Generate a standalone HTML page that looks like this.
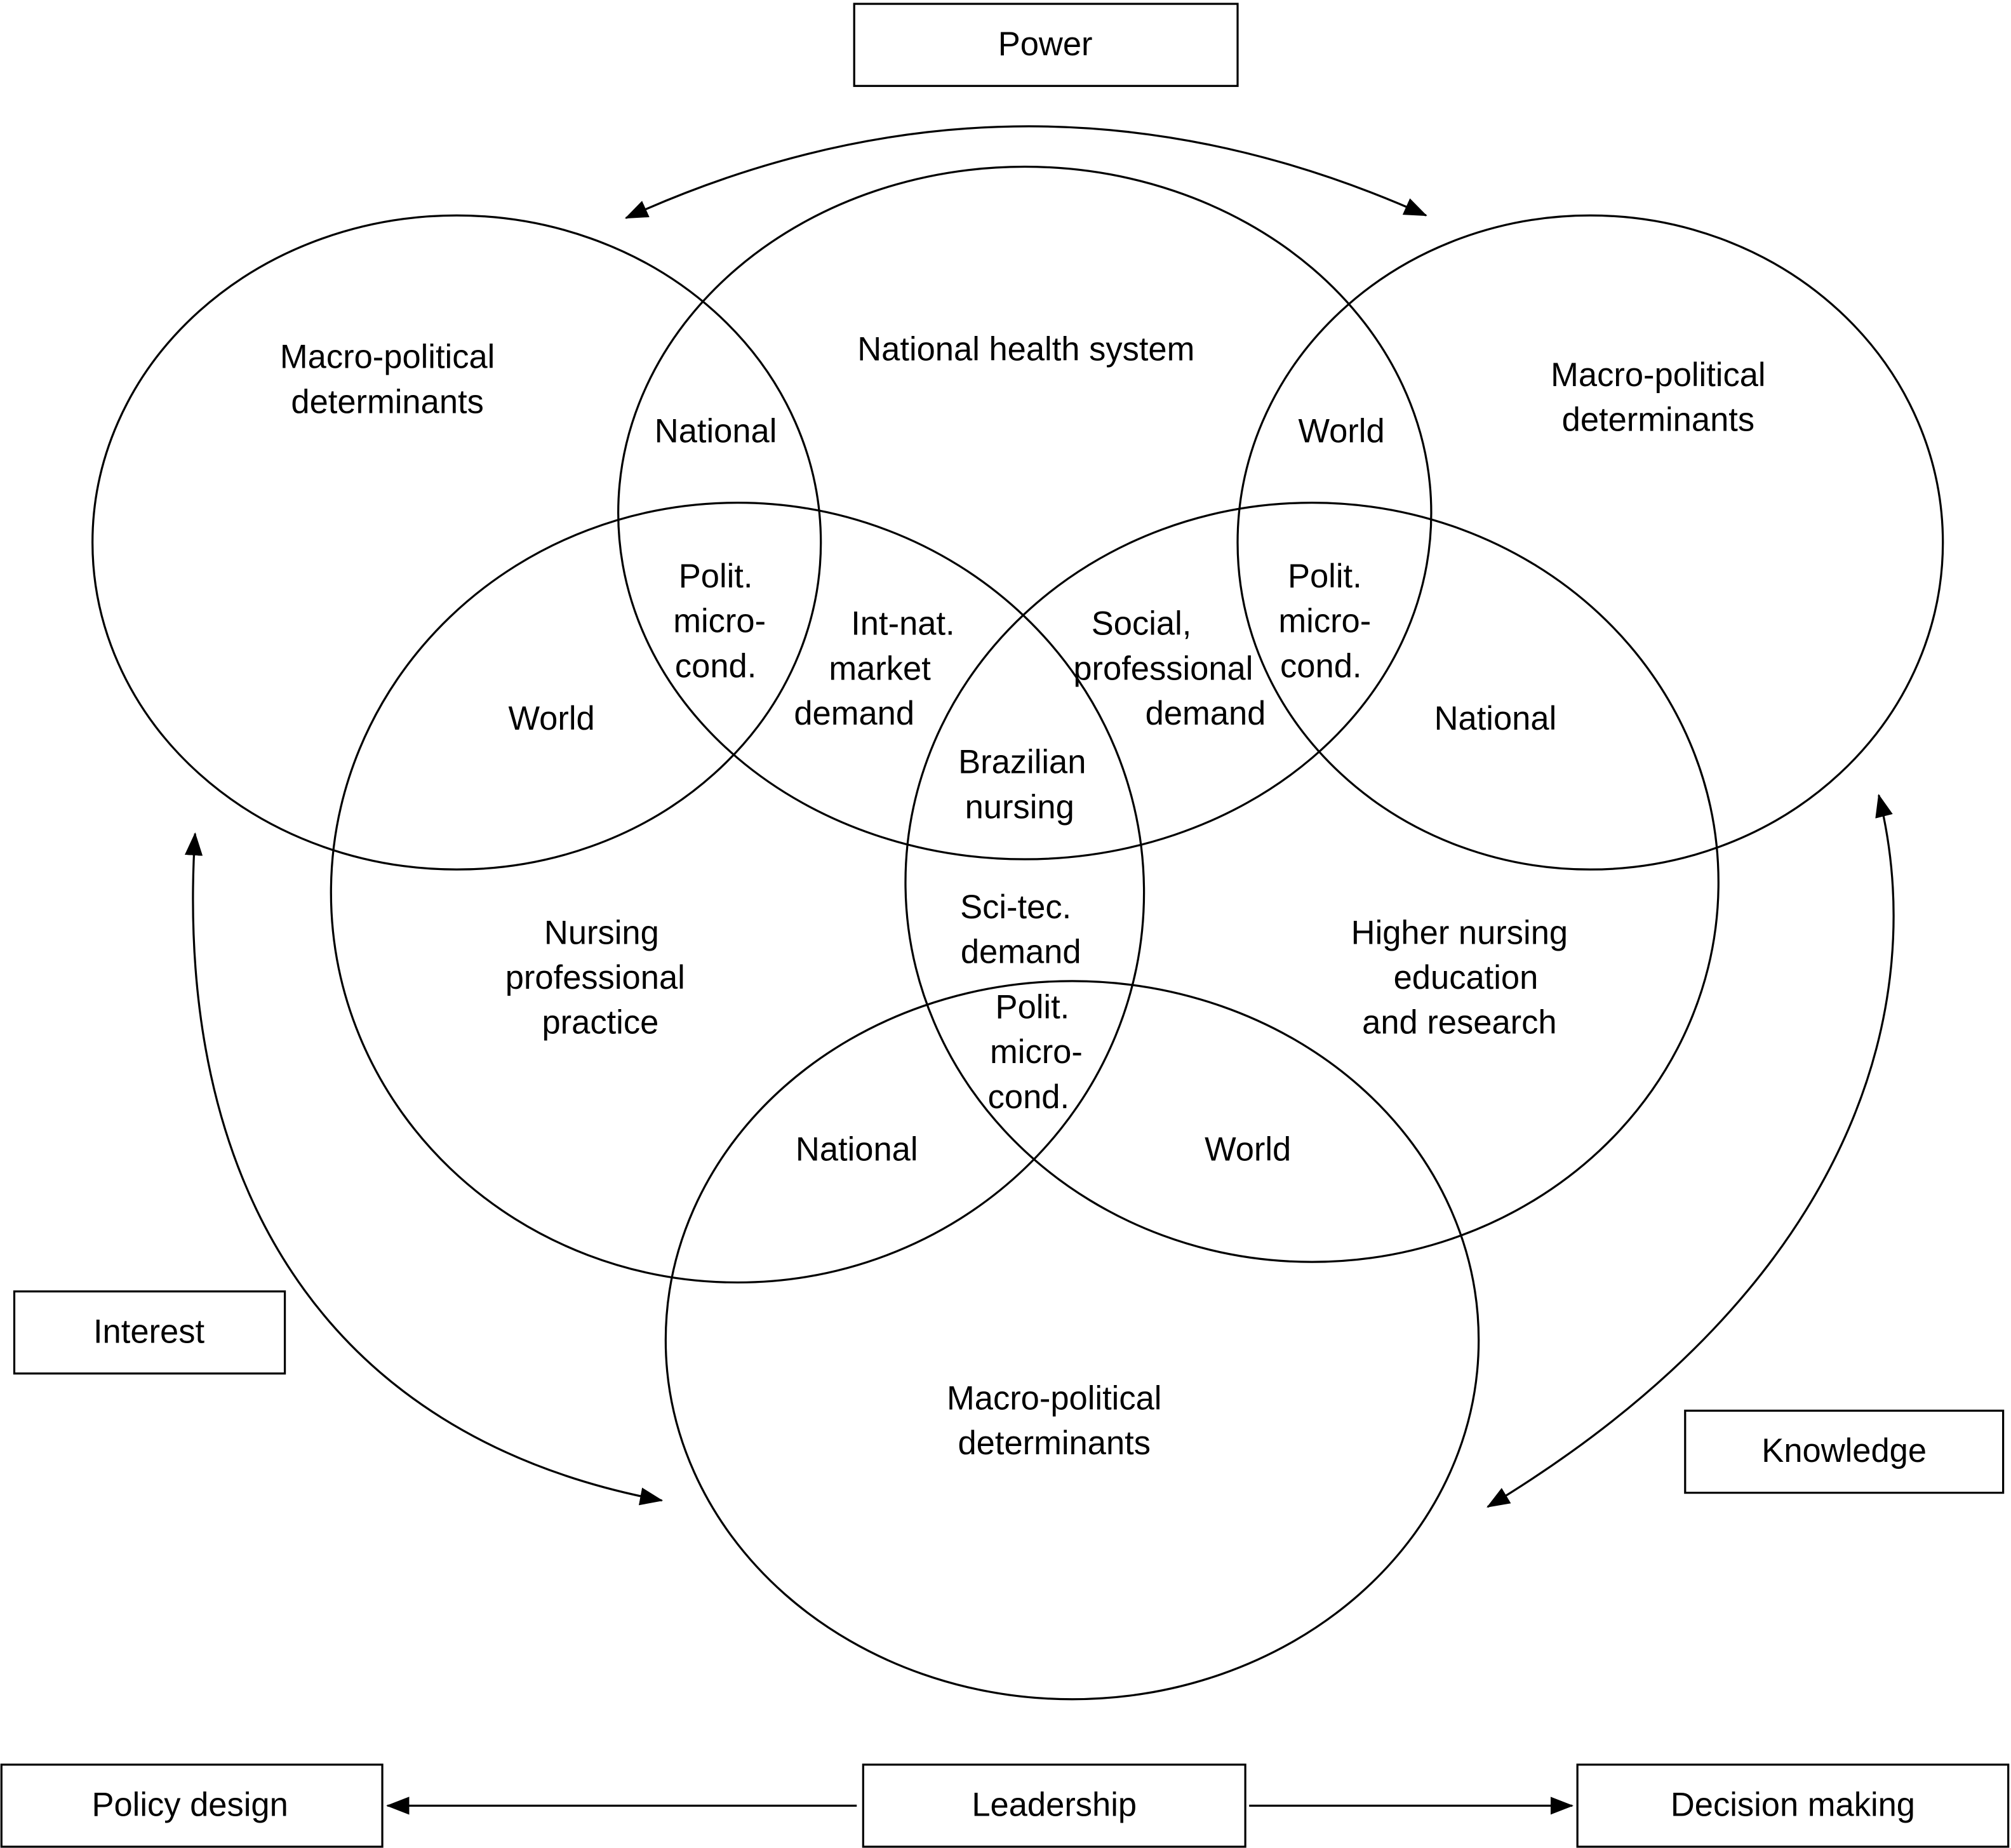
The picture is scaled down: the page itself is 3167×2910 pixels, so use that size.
<!DOCTYPE html>
<html><head><meta charset="utf-8"><style>
html,body{margin:0;padding:0;background:#fff;}
svg{display:block;}
text{font-family:"Liberation Sans",Arial,sans-serif;font-size:26px;fill:#000;text-anchor:middle;}
</style></head><body>
<svg width="3167" height="2910" viewBox="0 0 1568 1441" xmlns="http://www.w3.org/2000/svg">
<defs>
<marker id="b" markerWidth="18" markerHeight="14" refX="17" refY="7" orient="auto-start-reverse" markerUnits="userSpaceOnUse"><path d="M0,0 L18,7 L0,14 z" fill="#000"/></marker></defs>
<g fill="none" stroke="#000" stroke-width="1.6">
<ellipse cx="356" cy="423" rx="284" ry="255"/>
<ellipse cx="799" cy="400" rx="317" ry="270"/>
<ellipse cx="1240" cy="423" rx="275" ry="255"/>
<ellipse cx="575" cy="696" rx="317" ry="304"/>
<ellipse cx="1023" cy="688" rx="317" ry="296"/>
<ellipse cx="836" cy="1045" rx="317" ry="280"/>
<rect x="666" y="3" width="299" height="64"/>
<rect x="11" y="1007" width="211" height="64"/>
<rect x="1314" y="1100" width="248" height="64"/>
<rect x="1" y="1376" width="297" height="64"/>
<rect x="673" y="1376" width="298" height="64"/>
<rect x="1230" y="1376" width="336" height="64"/>
<path d="M488,170 Q800,28 1112,168" marker-start="url(#b)" marker-end="url(#b)"/>
<path d="M152,650 C135,920 250,1120 516,1170" marker-start="url(#b)" marker-end="url(#b)"/>
<path d="M1465,620 C1505,780 1450,1000 1160,1175" marker-start="url(#b)" marker-end="url(#b)"/>
<path d="M668,1408 L302,1408" marker-end="url(#b)"/>
<path d="M974,1408 L1226,1408" marker-end="url(#b)"/>
</g>
<text x="815" y="43">Power</text>
<text x="116" y="1047">Interest</text>
<text x="1438" y="1140">Knowledge</text>
<text x="148" y="1416">Policy design</text>
<text x="822" y="1416">Leadership</text>
<text x="1398" y="1416">Decision making</text>
<text x="302" y="287">Macro-political</text><text x="302" y="322">determinants</text>
<text x="800" y="281">National health system</text>
<text x="1293" y="301">Macro-political</text><text x="1293" y="336">determinants</text>
<text x="558" y="345">National</text>
<text x="1046" y="345">World</text>
<text x="558" y="458">Polit.</text><text x="561" y="493">micro-</text><text x="558" y="528">cond.</text>
<text x="1033" y="458">Polit.</text><text x="1033" y="493">micro-</text><text x="1030" y="528">cond.</text>
<text x="704" y="495">Int-nat.</text><text x="686" y="530">market</text><text x="666" y="565">demand</text>
<text x="890" y="495">Social,</text><text x="907" y="530">professional</text><text x="940" y="565">demand</text>
<text x="430" y="569">World</text>
<text x="1166" y="569">National</text>
<text x="797" y="603">Brazilian</text><text x="795" y="638">nursing</text>
<text x="792" y="716">Sci-tec.</text><text x="796" y="751">demand</text>
<text x="805" y="794">Polit.</text><text x="808" y="829">micro-</text><text x="802" y="864">cond.</text>
<text x="469" y="736">Nursing</text><text x="464" y="771">professional</text><text x="468" y="806">practice</text>
<text x="1138" y="736">Higher nursing</text><text x="1143" y="771">education</text><text x="1138" y="806">and research</text>
<text x="668" y="905">National</text>
<text x="973" y="905">World</text>
<text x="822" y="1099">Macro-political</text><text x="822" y="1134">determinants</text>
</svg>
</body></html>
